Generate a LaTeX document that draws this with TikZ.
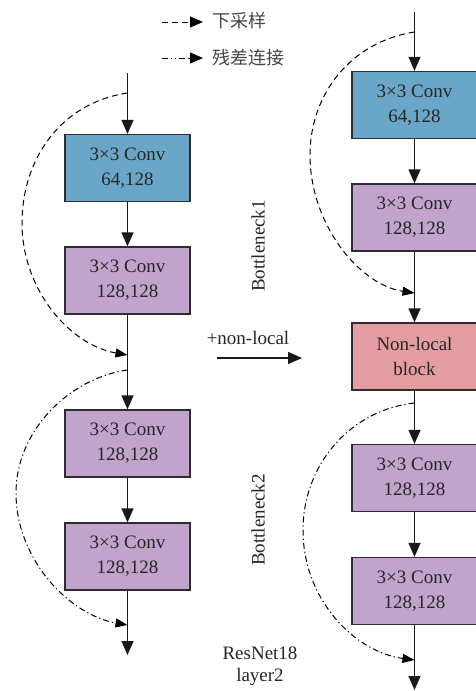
\documentclass[tikz,border=0pt]{standalone}
\usepackage{fontspec}
\setmainfont{Liberation Serif}
\newfontfamily\cjk{Noto Sans CJK SC}
\usetikzlibrary{arrows.meta}
\definecolor{convblue}{RGB}{106,166,200}
\definecolor{convpurple}{RGB}{193,163,203}
\definecolor{nlpink}{RGB}{228,157,162}
\definecolor{edgegray}{RGB}{45,45,45}
\definecolor{legendgray}{RGB}{70,70,70}
\begin{document}
\begin{tikzpicture}[x=1pt,y=-1pt,
  box/.style={draw=edgegray,line width=1.3pt,minimum width=125pt,minimum height=67pt,
    inner sep=0pt,align=center,font=\fontsize{19}{25}\selectfont,text=black!85},
  flow/.style={-{Triangle[length=14pt,width=12pt]},line width=1.3pt,draw=black!90},
  dsarrow/.style={dash pattern=on 6pt off 4pt,line width=1pt,
    -{Triangle[length=12pt,width=9pt]}},
  resarrow/.style={dash pattern=on 6pt off 3pt on 1.2pt off 3pt,line width=1pt,
    -{Triangle[length=12pt,width=9pt]}},
  lbl/.style={font=\fontsize{19}{22}\selectfont,text=black!85,align=center}]
\useasboundingbox (0,0) rectangle (476,691);

% legend
\coordinate (lg1a) at (162,22);
\coordinate (lg1b) at (203,22);
\coordinate (lg2a) at (162,58);
\coordinate (lg2b) at (203,58);
\draw[dash pattern=on 6pt off 4pt,line width=1pt,-{Triangle[length=13pt,width=11pt]}] (lg1a) -- (lg1b);
\draw[dash pattern=on 6pt off 3pt on 1.2pt off 3pt on 1.2pt off 3pt,line width=1pt,-{Triangle[length=13pt,width=11pt]}] (lg2a) -- (lg2b);
\node[anchor=west,font=\cjk\fontsize{18}{20}\selectfont,text=legendgray] (lgt1) at (209,21) {下采样};
\node[anchor=west,font=\cjk\fontsize{18}{20}\selectfont,text=legendgray] (lgt2) at (209,58) {残差连接};

% left column: plain ResNet18 layer2
\coordinate (inL) at (127.5,73);
\node[box,fill=convblue]   (L1) at (127.5,168)   {3×3 Conv\\64,128};
\node[box,fill=convpurple] (L2) at (127.5,280.5) {3×3 Conv\\128,128};
\node[box,fill=convpurple] (L3) at (127.5,443.5) {3×3 Conv\\128,128};
\node[box,fill=convpurple] (L4) at (127.5,556.5) {3×3 Conv\\128,128};
\coordinate (outL) at (127.5,655);

\draw[flow] (inL) -- (L1);
\draw[flow] (L1) -- (L2);
\draw[flow] (L2) -- (L3);
\draw[flow] (L3) -- (L4);
\draw[flow] (L4) -- (outL);

\coordinate (dsL0) at (127.5,93);
\coordinate (dsL1) at (127.5,355);
\coordinate (rsL0) at (127.5,370);
\coordinate (rsL1) at (127.5,625);
\draw[dsarrow] (dsL0) .. controls (60,103) and (22,160) .. (22,223)
  .. controls (22,290) and (70,345) .. (dsL1);
\draw[resarrow] (rsL0) .. controls (70,378) and (16,430) .. (16,493)
  .. controls (16,560) and (70,615) .. (rsL1);

% right column: with non-local block
\coordinate (inR) at (414.5,12);
\node[box,fill=convblue]   (R1) at (414.5,105)   {3×3 Conv\\64,128};
\node[box,fill=convpurple] (R2) at (414.5,217.5) {3×3 Conv\\128,128};
\node[box,fill=nlpink]     (R3) at (414.5,356.5) {Non-local\\block};
\node[box,fill=convpurple] (R4) at (414.5,478)   {3×3 Conv\\128,128};
\node[box,fill=convpurple] (R5) at (414.5,591)   {3×3 Conv\\128,128};
\coordinate (outR) at (414.5,690);

\draw[flow] (inR) -- (R1);
\draw[flow] (R1) -- (R2);
\draw[flow] (R2) -- (R3);
\draw[flow] (R3) -- (R4);
\draw[flow] (R4) -- (R5);
\draw[flow] (R5) -- (outR);

\coordinate (dsR0) at (414.5,32);
\coordinate (dsR1) at (414.5,293);
\coordinate (rsR0) at (414.5,403);
\coordinate (rsR1) at (414.5,660);
\draw[dsarrow] (dsR0) .. controls (350,42) and (310,95) .. (310,155)
  .. controls (310,225) and (360,285) .. (dsR1);
\draw[resarrow] (rsR0) .. controls (350,410) and (303,465) .. (303,530)
  .. controls (303,600) and (355,652) .. (rsR1);

% labels
\node[lbl,rotate=90] (bn1) at (258,246) {Bottleneck1};
\node[lbl,rotate=90] (bn2) at (258,520) {Bottleneck2};
\node[lbl] (nl) at (248,338) {+non-local};
\coordinate (nla) at (217,358);
\coordinate (nlb) at (302,358);
\draw[flow] (nla) -- (nlb);
\node[lbl] (rn) at (260,666) {ResNet18\\layer2};
\end{tikzpicture}
\end{document}
